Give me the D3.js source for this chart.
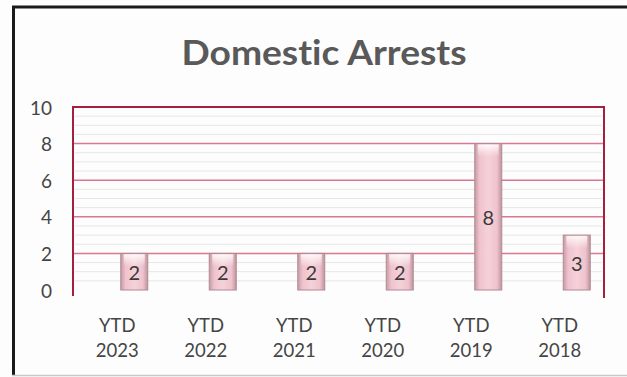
<!DOCTYPE html>
<html><head><meta charset="utf-8">
<script src="https://cdn.jsdelivr.net/npm/d3@7"></script>
<style>html,body{margin:0;padding:0;background:#fff;}svg{display:block;}text{font-variant-ligatures:none;font-feature-settings:"liga" 0;}</style>
</head><body>
<script>
const categories = ["YTD 2023","YTD 2022","YTD 2021","YTD 2020","YTD 2019","YTD 2018"];
const values = [2,2,2,2,8,3];
const yTicks = [0,2,4,6,8,10];
const title = "Domestic Arrests";

const W = 627, H = 377;
const svg = d3.select("body").append("svg").attr("width", W).attr("height", H);
svg.append("rect").attr("width", W).attr("height", H).attr("fill", "#fdfdfd");

// outer frame
svg.append("line").attr("x1", 12).attr("x2", W).attr("y1", 7).attr("y2", 7).attr("stroke", "#1a1a1a").attr("stroke-width", 3);
svg.append("line").attr("x1", 13.5).attr("x2", 13.5).attr("y1", 6).attr("y2", 376).attr("stroke", "#1a1a1a").attr("stroke-width", 3);
svg.append("line").attr("x1", 12).attr("x2", W).attr("y1", 375.5).attr("y2", 375.5).attr("stroke", "#c8c8c8").attr("stroke-width", 1.5);

const L = 73, R = 604, T = 107, B = 290;
const x = d3.scaleBand().domain(categories).range([L, R]);
const y = d3.scaleLinear().domain([0, 10]).range([B, T]);

const defs = svg.append("defs");
const g1 = defs.append("linearGradient").attr("id", "barH").attr("x1", 0).attr("x2", 1).attr("y1", 0).attr("y2", 0);
[[0,"#c59ba4"],[0.18,"#efc3cd"],[0.5,"#f6d1d9"],[0.82,"#efc3cd"],[1,"#c0949d"]].forEach(s => g1.append("stop").attr("offset", s[0]).attr("stop-color", s[1]));
const g2 = defs.append("linearGradient").attr("id", "barTop").attr("x1", 0).attr("x2", 0).attr("y1", 0).attr("y2", 1);
g2.append("stop").attr("offset", 0).attr("stop-color", "#ffffff").attr("stop-opacity", 0.85);
g2.append("stop").attr("offset", 1).attr("stop-color", "#ffffff").attr("stop-opacity", 0);

// faint minor lines
const minor = d3.range(0.5, 10, 0.5).filter(v => v % 2 !== 0);
svg.append("g").selectAll("line").data(minor).join("line")
  .attr("x1", L + 2).attr("x2", R - 2).attr("y1", d => y(d)).attr("y2", d => y(d))
  .attr("stroke", "#e6e6e6").attr("stroke-width", 1);

// gridlines
svg.append("g").selectAll("line").data(yTicks.filter(v => v > 0 && v < 10)).join("line")
  .attr("x1", L).attr("x2", R).attr("y1", d => y(d)).attr("y2", d => y(d))
  .attr("stroke", "#d9788f").attr("stroke-width", 1.5);

// plot border (top, left, right)
svg.append("path")
  .attr("d", `M${L},${B + 6}V${T}H${R}V${B + 8}`)
  .attr("fill", "none").attr("stroke", "#a3203f").attr("stroke-width", 2);

// bars
const bw = 27, off = 17;
const bars = svg.append("g").selectAll("g").data(categories).join("g");
bars.append("rect")
  .attr("x", (d) => x(d) + x.bandwidth() / 2 + off - bw / 2)
  .attr("y", (d, i) => y(values[i]))
  .attr("width", bw)
  .attr("height", (d, i) => B - y(values[i]))
  .attr("fill", "url(#barH)").attr("stroke", "#b08a93").attr("stroke-width", 1);
bars.append("rect")
  .attr("x", (d) => x(d) + x.bandwidth() / 2 + off - bw / 2 + 3)
  .attr("y", (d, i) => y(values[i]) + 1)
  .attr("width", bw - 6)
  .attr("height", 12)
  .attr("fill", "url(#barTop)");
bars.append("text")
  .attr("x", (d) => x(d) + x.bandwidth() / 2 + off)
  .attr("y", (d, i) => (y(values[i]) + B) / 2)
  .attr("text-anchor", "middle").attr("dominant-baseline", "central")
  .attr("font-family", "Lato, 'Open Sans', sans-serif").attr("font-size", 20)
  .attr("fill", "#3a3a3a")
  .text((d, i) => values[i]);

// y tick labels
svg.append("g").selectAll("text").data(yTicks).join("text")
  .attr("x", 52).attr("y", d => y(d)).attr("text-anchor", "end").attr("dominant-baseline", "central")
  .attr("font-family", "Lato, 'Open Sans', sans-serif").attr("font-size", 19).attr("fill", "#454545")
  .text(d => d);

// x labels
const xl = svg.append("g").selectAll("text").data(categories).join("text")
  .attr("text-anchor", "middle")
  .attr("font-family", "Lato, 'Open Sans', sans-serif").attr("font-size", 18.5).attr("fill", "#454545");
xl.append("tspan").attr("x", d => x(d) + x.bandwidth() / 2).attr("y", 332).text(d => d.split(" ")[0]);
xl.append("tspan").attr("x", d => x(d) + x.bandwidth() / 2).attr("y", 357).text(d => d.split(" ")[1]);

// title
svg.append("text").attr("x", 324).attr("y", 65).attr("text-anchor", "middle")
  .attr("font-family", "Lato, 'Open Sans', sans-serif").attr("font-weight", "bold").attr("font-size", 34)
  .attr("fill", "#595959").attr("textLength", 285).attr("lengthAdjust", "spacingAndGlyphs")
  .text(title);
</script>
</body></html>
